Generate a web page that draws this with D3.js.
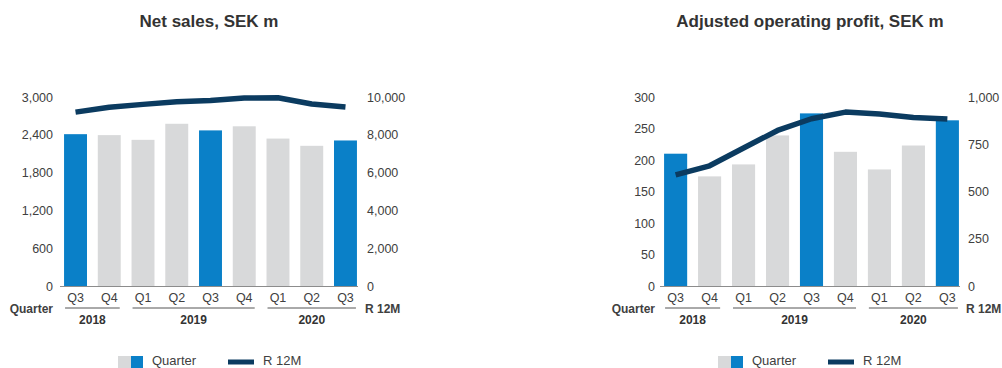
<!DOCTYPE html>
<html><head><meta charset="utf-8">
<script src="https://cdn.jsdelivr.net/npm/d3@7"></script>
<style>
body{margin:0;background:#fff;}
svg text{font-family:"Liberation Sans",Arial,Helvetica,sans-serif;}
</style></head>
<body><svg id="c" width="1002" height="368"></svg>
<script>
const quarters = ["Q3","Q4","Q1","Q2","Q3","Q4","Q1","Q2","Q3"];
const years = [{label:"2018", from:0, to:1},{label:"2019", from:2, to:5},{label:"2020", from:6, to:8}];
const highlight = [true,false,false,false,true,false,false,false,true];
const salesQuarter = [2410,2395,2320,2575,2470,2535,2340,2225,2310];
const salesR12 = [9200,9460,9610,9750,9820,9950,9960,9630,9470];
const profitQuarter = [210,174,193,239,274,213,185,223,263];
const profitR12 = [588,636,730,823,885,920,910,892,883];
const salesLeftTicks = [0,600,1200,1800,2400,3000];
const salesRightTicks = [0,2000,4000,6000,8000,10000];
const profitLeftTicks = [0,50,100,150,200,250,300];
const profitRightTicks = [0,250,500,750,1000];

const BLUE = "#0a80c8", GREY = "#d8d9da", NAVY = "#0b3b60", TXT = "#404040";
const svg = d3.select("#c");
const fmt = d3.format(",");

function panel(cfg){
  const g = svg.append("g");
  const x = d3.scaleBand().domain(d3.range(quarters.length)).range([cfg.x0, cfg.x1 + 3]).paddingInner(0.32).paddingOuter(0.12);
  const yL = d3.scaleLinear().domain([0, cfg.leftMax]).range([286, 97]);
  const yR = d3.scaleLinear().domain([0, cfg.rightMax]).range([286, 97]);

  g.append("text").attr("x", (cfg.x0 + cfg.x1)/2).attr("y", 27).attr("text-anchor","middle")
    .attr("font-size", 17).attr("font-weight","bold").attr("fill","#333").text(cfg.title);

  g.selectAll("rect.bar").data(cfg.bars).join("rect").attr("class","bar")
    .attr("x", (d,i)=>x(i)).attr("width", x.bandwidth())
    .attr("y", d=>yL(d)).attr("height", d=>yL(0)-yL(d))
    .attr("fill", (d,i)=>highlight[i]?BLUE:GREY);

  g.append("line").attr("x1", cfg.x0).attr("x2", cfg.x1).attr("y1", 286.5).attr("y2", 286.5)
    .attr("stroke","#8c8c8c").attr("stroke-width",1.2);

  const line = d3.line().x((d,i)=>x(i)+x.bandwidth()/2).y(d=>yR(d)).curve(d3.curveLinear);
  g.append("path").datum(cfg.line).attr("d", line).attr("fill","none")
    .attr("stroke", NAVY).attr("stroke-width", 5.5).attr("stroke-linejoin","round");

  const axL = g.append("g").attr("transform",`translate(${cfg.x0},0)`)
    .call(d3.axisLeft(yL).tickValues(cfg.leftTicks).tickSize(0).tickPadding(cfg.padL).tickFormat(fmt));
  const axR = g.append("g").attr("transform",`translate(${cfg.x1},0)`)
    .call(d3.axisRight(yR).tickValues(cfg.rightTicks).tickSize(0).tickPadding(cfg.padR).tickFormat(fmt));
  const axB = g.append("g").attr("transform",`translate(0,286)`)
    .call(d3.axisBottom(x).tickSize(0).tickPadding(7).tickFormat(i=>quarters[i]));
  [axL,axR,axB].forEach(a=>{
    a.select(".domain").remove();
    a.selectAll("text").attr("font-size",12.5).attr("fill",TXT).style("font-family","Liberation Sans, Arial, sans-serif");
  });

  g.append("text").attr("x", cfg.x0 - cfg.padL).attr("y", 313).attr("text-anchor","end")
    .attr("font-size",12).attr("font-weight","bold").attr("fill",TXT).text("Quarter");
  g.append("text").attr("x", cfg.x1 + cfg.padR - 2).attr("y", 313)
    .attr("font-size",12).attr("font-weight","bold").attr("fill",TXT).text("R 12M");

  years.forEach(yr=>{
    const a = x(yr.from), b = x(yr.to) + x.bandwidth();
    g.append("line").attr("x1",a+1).attr("x2",b-1).attr("y1",308).attr("y2",308).attr("stroke","#555").attr("stroke-width",1);
    g.append("text").attr("x",(a+b)/2).attr("y",324).attr("text-anchor","middle")
      .attr("font-size",12).attr("font-weight","bold").attr("fill","#333").text(yr.label);
  });

  const lg = g.append("g").attr("transform",`translate(${cfg.legendX},0)`);
  lg.append("rect").attr("x",0).attr("y",356).attr("width",13).attr("height",12).attr("fill",GREY);
  lg.append("rect").attr("x",13).attr("y",356).attr("width",12).attr("height",12).attr("fill",BLUE);
  lg.append("text").attr("x",34).attr("y",365).attr("font-size",13).attr("fill",TXT).text("Quarter");
  lg.append("line").attr("x1",110).attr("x2",136).attr("y1",362).attr("y2",362).attr("stroke",NAVY).attr("stroke-width",5);
  lg.append("text").attr("x",145).attr("y",365).attr("font-size",13).attr("fill",TXT).text("R 12M");
}

panel({title:"Net sales, SEK m", x0:60, x1:358, leftMax:3000, rightMax:10000,
  leftTicks:salesLeftTicks, rightTicks:salesRightTicks, bars:salesQuarter, line:salesR12,
  padL:7, padR:9, legendX:118});
panel({title:"Adjusted operating profit, SEK m", x0:660, x1:960, leftMax:300, rightMax:1000,
  leftTicks:profitLeftTicks, rightTicks:profitRightTicks, bars:profitQuarter, line:profitR12,
  padL:5, padR:8, legendX:718});
</script></body></html>
